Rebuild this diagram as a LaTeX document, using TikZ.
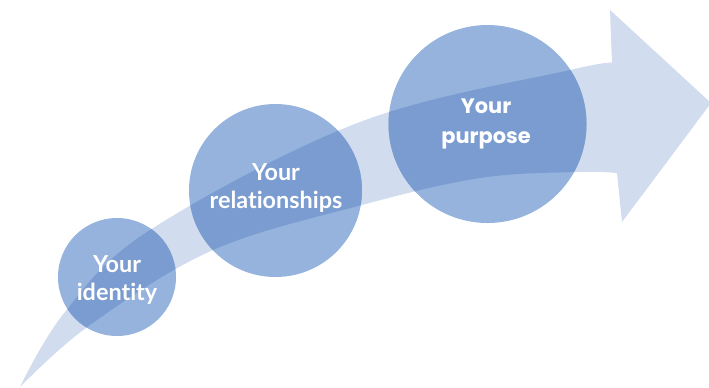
\documentclass[tikz,border=0pt]{standalone}
\usepackage{fontspec}
\usepackage{tikz}
\newfontfamily\labfont[Ligatures=NoCommon]{Lato}
\newfontfamily\purpfont{Poppins}
\definecolor{bandblue}{HTML}{D1DCEF}
\definecolor{ringblue}{HTML}{95B3DD}
\definecolor{deepblue}{HTML}{7B9CD0}

\begin{document}
\begin{tikzpicture}[x=1bp, y=-1bp,
  txt/.style={text=white, align=center, font=\labfont\bfseries\fontsize{23.5}{29}\selectfont}]
  \useasboundingbox (0,0) rectangle (709,387);
  \clip (0,0) rectangle (709,387);
  % the sweeping arrow
  \def\shaftpath{(20,387) -- plot[smooth, tension=0.6] coordinates {(20,387) (65,312) (150,230) (360,122) (570,70) (612,63)}
    -- (610,10) -- (711,103) -- (622,222) -- (617,173)
    -- plot[smooth, tension=0.6] coordinates {(617,173) (577,172) (480,178) (362,205) (213,250) (90,325) (20,387)} -- cycle}
  \fill[bandblue] \shaftpath;
  \coordinate (id) at (117,277);
  \coordinate (rel) at (275.5,190.5);
  \coordinate (purp) at (487.5,124);
  \foreach \c/\r in {id/59, rel/86.5, purp/99} {
    \fill[ringblue] (\c) circle [radius=\r];
    \begin{scope}
      \clip (\c) circle [radius=\r];
      \fill[deepblue] \shaftpath;
    \end{scope}
  }
  \node[txt] (idtext) at (117,280) {Your\\identity};
  \node[txt] (reltext) at (276,188) {Your\\relationships};
  \node[txt, font=\purpfont\bfseries\fontsize{21}{30}\selectfont] (purptext) at (486,124) {Your\\purpose};
\end{tikzpicture}
\end{document}
